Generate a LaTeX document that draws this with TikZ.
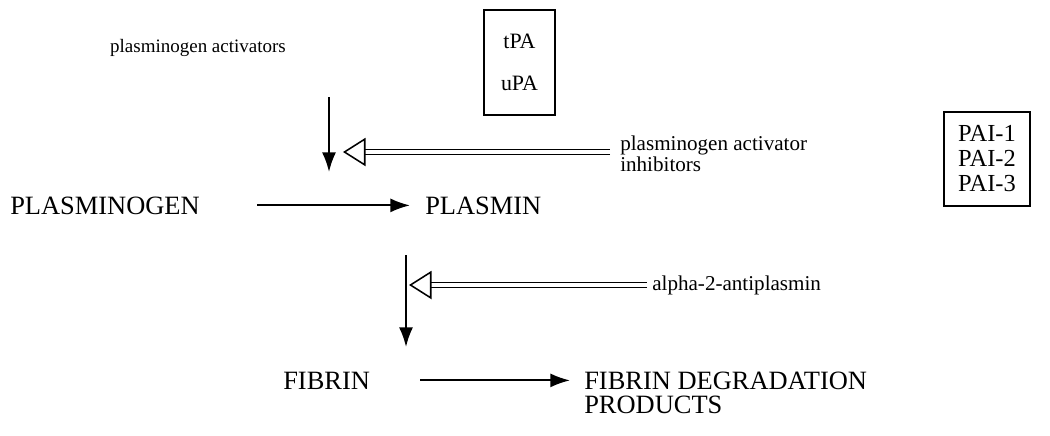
\documentclass[tikz,border=0pt]{standalone}
\usepackage{fontspec}
\setmainfont{Liberation Serif}
\usetikzlibrary{arrows.meta, positioning}

\tikzset{
  lower/.style={font=\fontsize{15}{14.5}\selectfont, inner sep=0pt},
  upper/.style={font=\fontsize{18.8}{17}\selectfont, inner sep=0pt},
  act/.style={line width=1.4pt, -{Latex[length=14pt, width=10pt]}},
  inhib/.style={double, double distance=2.5pt, line width=0.9pt,
    -{Triangle[open, length=16pt, width=20pt, line width=1.1pt]}},
  listbox/.style={draw, line width=1.3pt}
}

\begin{document}
\begin{tikzpicture}[x=0.025cm, y=-0.025cm]
    \useasboundingbox (0,0) rectangle (1050,435);

    % Activators
    \node[lower, font=\fontsize{13.5}{14}\selectfont, anchor=base] (pa) at (198,52) {plasminogen activators};
    \node[listbox, font=\fontsize{15.6}{30}\selectfont, align=center,
          minimum width=1.775cm, minimum height=2.625cm] (tpa) at (519.5,62.5) {tPA\\uPA};

    % Inhibitors
    \node[lower, anchor=north west, align=left] (pai) at (620,136) {plasminogen activator\\inhibitors};
    \node[listbox, font=\fontsize{17.4}{17.8}\selectfont, align=left,
          inner xsep=10pt, minimum height=2.35cm] (pais) at (987,159) {PAI-1\\PAI-2\\PAI-3};
    \node[lower, anchor=base west] (a2ap) at (652,290) {alpha-2-antiplasmin};

    % Substrates and products
    \node[upper, anchor=base west] (plg) at (10,214) {PLASMINOGEN};
    \node[upper, anchor=base west] (pln) at (425,214) {PLASMIN};
    \node[upper, anchor=base west] (fib) at (283,389) {FIBRIN};
    \node[upper, anchor=north west, align=left] (fdp) at (584,371.5) {FIBRIN DEGRADATION\\PRODUCTS};

    % Arrow ends
    \coordinate (paA) at (329,97);
    \coordinate (paB) at (329,172);
    \coordinate (plnA) at (406,255);
    \coordinate (plnB) at (406,347);
    \coordinate (paiA) at (610,152);
    \coordinate (paiB) at (343,152);
    \coordinate (a2apA) at (647,285);
    \coordinate (a2apB) at (409,285);

    % Conversions
    \draw[act, shorten <=1.425cm, shorten >=0.375cm] (plg) -- (pln);
    \draw[act, shorten <=1.25cm, shorten >=0.35cm] (fib.east) -- (fib.east -| fdp.west);
    \draw[act] (paA) -- (paB);
    \draw[act] (plnA) -- (plnB);

    % Inhibition
    \draw[inhib] (paiA) -- (paiB);
    \draw[inhib] (a2apA) -- (a2apB);
\end{tikzpicture}
\end{document}
